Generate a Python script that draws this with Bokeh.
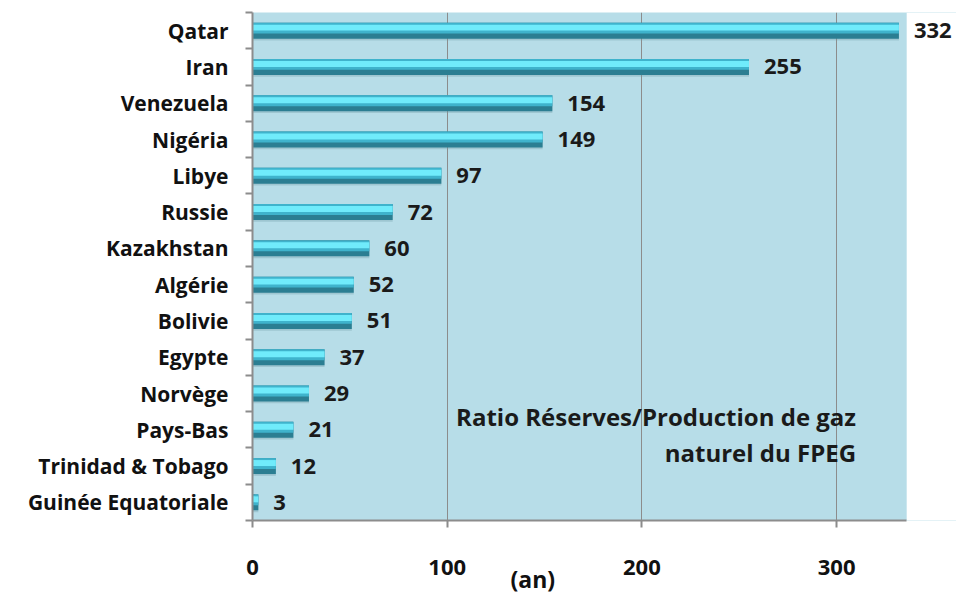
from bokeh.plotting import figure
from bokeh.models import ColumnDataSource, FixedTicker, LabelSet, Label, Range1d, BoxAnnotation, Title
from bokeh.core.properties import value
from bokeh.transform import dodge
from bokeh.embed import file_html
from bokeh.resources import INLINE

countries = ["Qatar", "Iran", "Venezuela", "Nigéria", "Libye", "Russie", "Kazakhstan",
             "Algérie", "Bolivie", "Egypte", "Norvège", "Pays-Bas", "Trinidad & Tobago",
             "Guinée Equatoriale"]
ratios = [332, 255, 154, 149, 97, 72, 60, 52, 51, 37, 29, 21, 12, 3]
x_ticks = [0, 100, 200, 300]
x_max = 336
title_lines = ["Ratio Réserves/Production de gaz", "naturel du FPEG"]
axis_unit = "(an)"

n = len(countries)
ypos = [n - i - 0.5 for i in range(n)]
src = ColumnDataSource(dict(y=ypos, v=ratios, lab=[str(r) for r in ratios]))

FONT = "Open Sans"
W, H = 956, 594
LEFT, TOP, BOTTOM = 252, 12, 520
PX_PER_UNIT = 1.947

p = figure(width=W, height=H, output_backend="svg", toolbar_location=None,
           x_range=Range1d(0, (W - LEFT) / PX_PER_UNIT), y_range=Range1d(0, n),
           min_border_left=LEFT, min_border_right=0, min_border_top=TOP,
           min_border_bottom=H - BOTTOM)
p.background_fill_color = "#b7dde8"
p.border_fill_color = "white"
p.outline_line_color = None
p.add_layout(BoxAnnotation(left=x_max, fill_color="white", fill_alpha=1.0,
                           line_color=None, level="underlay"))

# bars: shadow, dark base, mid body, light highlight, thin top edge
p.hbar(y=dodge("y", -0.05, range=p.y_range), right="v", left=0, height=0.44, source=src,
       fill_color="#6f9aa6", line_color=None, fill_alpha=0.35)
p.hbar(y="y", right="v", left=0, height=0.44, source=src,
       fill_color="#2b7e92", line_color=None)
p.hbar(y=dodge("y", 0.069, range=p.y_range), right="v", left=0, height=0.30, source=src,
       fill_color="#3fb3cc", line_color=None)
p.hbar(y=dodge("y", 0.083, range=p.y_range), right="v", left=0, height=0.165, source=src,
       fill_color="#70ebfb", line_color=None)

labels = LabelSet(x="v", y="y", text="lab", source=src, x_offset=15,
                  text_baseline="middle", text_align="left", text_font=value(FONT),
                  text_font_style="bold", text_font_size="22px", text_color="#1a1a1a")
p.add_layout(labels)

# grid
p.ygrid.grid_line_color = None
p.xgrid.grid_line_color = "#8c8c8c"
p.xgrid.grid_line_width = 1
p.xgrid.ticker = FixedTicker(ticks=x_ticks)

# x axis
p.xaxis.ticker = FixedTicker(ticks=x_ticks)
p.xaxis.bounds = (0, x_max)
p.xaxis.axis_line_color = "#8c8c8c"
p.xaxis.axis_line_width = 2
p.xaxis.major_tick_line_color = "#8c8c8c"
p.xaxis.major_tick_line_width = 2
p.xaxis.major_tick_out = 7
p.xaxis.major_tick_in = 0
p.xaxis.minor_tick_line_color = None
p.xaxis.major_label_standoff = 32
p.xaxis.major_label_text_font = FONT
p.xaxis.major_label_text_font_style = "bold"
p.xaxis.major_label_text_font_size = "22px"
p.xaxis.major_label_text_color = "#111111"

# y axis: labels at centers, ticks at boundaries
p.yaxis.ticker = FixedTicker(ticks=ypos, minor_ticks=list(range(n + 1)))
p.yaxis.major_label_overrides = {y: c for y, c in zip(ypos, countries)}
p.yaxis.major_tick_line_color = None
p.yaxis.major_tick_out = 0
p.yaxis.major_tick_in = 0
p.yaxis.minor_tick_line_color = "#8c8c8c"
p.yaxis.minor_tick_line_width = 2
p.yaxis.minor_tick_out = 7
p.yaxis.minor_tick_in = 0
p.yaxis.axis_line_color = "#8c8c8c"
p.yaxis.axis_line_width = 2
p.yaxis.major_label_standoff = 17
p.yaxis.major_label_text_font = FONT
p.yaxis.major_label_text_font_style = "bold"
p.yaxis.major_label_text_font_size = "21px"
p.yaxis.major_label_text_color = "#111111"

unit_title = Title(text=axis_unit, align="left", offset=258, standoff=-35,
                   text_font=FONT, text_font_style="bold", text_font_size="23px",
                   text_color="#111111")
p.add_layout(unit_title, "below")

p.add_layout(Label(x=310, y=2.87, text=title_lines[0], text_font=FONT,
                   text_font_style="bold", text_font_size="24px", text_align="right",
                   text_baseline="middle", text_color="#1a1a1a"))
p.add_layout(Label(x=310, y=1.88, text=title_lines[1], text_font=FONT,
                   text_font_style="bold", text_font_size="24px", text_align="right",
                   text_baseline="middle", text_color="#1a1a1a"))

open("out.html", "w").write(file_html(p, INLINE))
